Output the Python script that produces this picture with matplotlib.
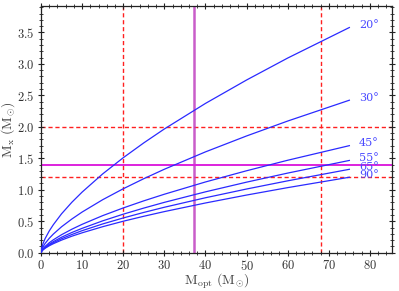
import matplotlib
matplotlib.use("Agg")
import matplotlib.pyplot as plt
from matplotlib.ticker import MultipleLocator, FuncFormatter

plt.rcParams['font.family'] = 'DejaVu Serif'
plt.rcParams['mathtext.fontset'] = 'cm'

# optical star mass (M_sun)
m_opt = [0, 0.2, 0.5, 1, 2, 3, 5, 7.5, 10, 15, 20, 25, 30, 40, 50, 60, 75]

# compact object mass for each inclination
mx_20 = [0.008, 0.084, 0.146, 0.224, 0.345, 0.445, 0.618, 0.801, 0.963, 1.252, 1.509, 1.745, 1.966, 2.372, 2.744, 3.093, 3.578]
mx_30 = [0.002, 0.053, 0.095, 0.147, 0.228, 0.296, 0.412, 0.535, 0.646, 0.842, 1.016, 1.176, 1.326, 1.602, 1.855, 2.092, 2.423]
mx_45 = [0.001, 0.036, 0.064, 0.100, 0.158, 0.205, 0.286, 0.373, 0.451, 0.589, 0.711, 0.824, 0.929, 1.124, 1.302, 1.469, 1.701]
mx_55 = [0.0005, 0.031, 0.055, 0.086, 0.135, 0.176, 0.246, 0.321, 0.387, 0.506, 0.612, 0.709, 0.800, 0.967, 1.121, 1.265, 1.466]
mx_65 = [0.0004, 0.027, 0.049, 0.077, 0.122, 0.158, 0.222, 0.289, 0.350, 0.457, 0.552, 0.640, 0.722, 0.873, 1.012, 1.142, 1.325]
mx_90 = [0.0003, 0.025, 0.045, 0.070, 0.110, 0.143, 0.200, 0.262, 0.316, 0.413, 0.500, 0.579, 0.653, 0.790, 0.916, 1.034, 1.199]

curves = [("20°", mx_20), ("30°", mx_30), ("45°", mx_45),
          ("55°", mx_55), ("65°", mx_65), ("90°", mx_90)]

# reference lines
red_x = [20, 68]
red_y = [2.0, 1.2]
mag_x = 37.2
mag_y = 1.4

fig = plt.figure(figsize=(3.99, 2.91), dpi=100)
ax = fig.add_axes([41 / 399, 1 - 252.7 / 291, 350.7 / 399, 246.7 / 291])

for xv in red_x:
    ax.axvline(xv, color='#ff2020', ls=(0, (3, 2)), lw=1.0, zorder=1)
for yv in red_y:
    ax.axhline(yv, color='#ff2020', ls=(0, (3, 2)), lw=1.0, zorder=1)
ax.axvline(mag_x, color='#c040c0', lw=1.8, alpha=0.85, zorder=2)
ax.axhline(mag_y, color='#dd22dd', lw=1.4, zorder=2)

for lab, ys in curves:
    ax.plot(m_opt, ys, color='#2a2aff', lw=0.9, zorder=3)
    ax.text(m_opt[-1] + 2.3, ys[-1] + 0.04, lab, color='#4a4aff',
            fontsize=8, va='center', ha='left')

ax.set_xlim(0, 85.3)
ax.set_ylim(0, 3.92)
ax.xaxis.set_major_locator(MultipleLocator(10))
ax.xaxis.set_minor_locator(MultipleLocator(2))
ax.yaxis.set_major_locator(MultipleLocator(0.5))
ax.yaxis.set_minor_locator(MultipleLocator(0.1))
ax.xaxis.set_major_formatter(FuncFormatter(lambda v, p: r"$%d$" % round(v)))
ax.yaxis.set_major_formatter(FuncFormatter(lambda v, p: r"$%.1f$" % v))
ax.tick_params(which='both', direction='inout', top=True, right=True,
               labelsize=9, color='#222222', labelcolor='#333333')
ax.tick_params(which='major', length=5, width=0.8, pad=2)
ax.tick_params(which='minor', length=3, width=0.6)
for s in ax.spines.values():
    s.set_linewidth(0.9)
    s.set_color('#222222')

ax.set_xlabel(r"$\mathrm{M_{opt}\ (M_{\odot})}$", fontsize=10, color='#444444', labelpad=-1)
ax.set_ylabel(r"$\mathrm{M_{x}\ (M_{\odot})}$", fontsize=10, color='#444444', labelpad=0)

fig.savefig("out.png", dpi=100)
